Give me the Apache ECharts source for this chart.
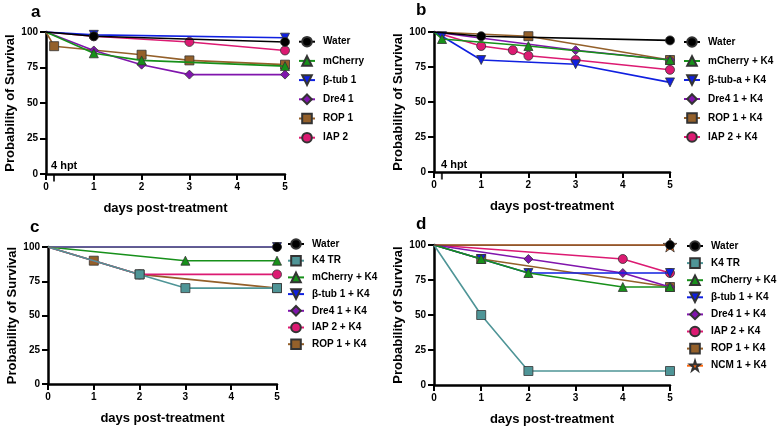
<!DOCTYPE html>
<html>
<head>
<meta charset="utf-8">
<script src="https://cdn.jsdelivr.net/npm/echarts@6/dist/echarts.min.js"></script>
<style>
  html, body { margin: 0; padding: 0; background: #fff; }
  #main { width: 778px; height: 430px; }
</style>
</head>
<body>
<div id="main"></div>
<script>
// survival data, [day, percent]
var aWater = [[0,100],[1,97],[5,93]];
var aMCherry = [[0,100],[1,85],[2,80],[5,76]];
var aBtub = [[0,100],[1,98],[5,96]];
var aDre4 = [[0,100],[1,87],[2,77],[3,70],[5,70]];
var aRop = [[0,100],[0.17,90],[2,84],[3,80],[5,77]];
var aIap = [[0,100],[1,97],[3,93],[5,87]];

var bWater = [[0,100],[1,97],[5,94]];
var bMCherry = [[0,100],[0.17,95],[2,90],[5,80]];
var bBtub = [[0,100],[0.17,97],[1,80],[3,77],[5,64]];
var bDre4 = [[0,100],[3,87],[5,80]];
var bRop = [[0,100],[2,97],[5,80]];
var bIap = [[0,100],[1,90],[1.67,87],[2,83],[3,80],[5,73]];

var cWater = [[0,100],[5,100]];
var cK4 = [[0,100],[2,80],[3,70],[5,70]];
var cMCherry = [[0,100],[3,90],[5,90]];
var cBtub = [[0,100],[5,100]];
var cDre4 = [[0,100],[5,100]];
var cIap = [[0,100],[2,80],[5,80]];
var cRop = [[0,100],[1,90],[2,80],[5,70]];

var dWater = [[0,100],[5,100]];
var dK4 = [[0,100],[1,50],[2,10],[5,10]];
var dMCherry = [[0,100],[1,90],[2,80],[4,70],[5,70]];
var dBtub = [[0,100],[1,90],[2,80],[5,80]];
var dDre4 = [[0,100],[2,90],[4,80],[5,70]];
var dIap = [[0,100],[4,90],[5,80]];
var dRop = [[0,100],[1,90],[5,70]];
var dNcm = [[0,100],[5,100]];

var hptTick = [[0.167, 0]];

var FONT = 'Liberation Sans';
var STAR = 'path://M50,0 L61,35 L98,35 L68,57 L79,91 L50,70 L21,91 L32,57 L2,35 L39,35 Z';

var look = {
    water:   {color: '#000000', symbol: 'circle'},
    k4:      {color: '#4f9597', symbol: 'rect'},
    mcherry: {color: '#17901a', symbol: 'triangle'},
    btub:    {color: '#1020e0', symbol: 'triangle', rotate: 180},
    dre4:    {color: '#8015ad', symbol: 'diamond'},
    rop:     {color: '#94602a', symbol: 'rect'},
    iap:     {color: '#dc1a72', symbol: 'circle'},
    ncm:     {color: '#ff6a10', symbol: STAR}
};

var panels = [
    {
        grid: {left: 46, top: 32, width: 239, height: 142},
        legend: {left: 298, top: 35.7, itemGap: 7.2},
        hpt: true,
        lines: [
            ['Water', aWater, 'water'],
            ['mCherry', aMCherry, 'mcherry'],
            ['β-tub 1', aBtub, 'btub'],
            ['Dre4 1', aDre4, 'dre4'],
            ['ROP 1', aRop, 'rop'],
            ['IAP 2', aIap, 'iap']
        ]
    },
    {
        grid: {left: 434, top: 32, width: 236, height: 140},
        legend: {left: 683, top: 36, itemGap: 7},
        hpt: true,
        lines: [
            ['Water', bWater, 'water'],
            ['mCherry + K4', bMCherry, 'mcherry'],
            ['β-tub-a + K4', bBtub, 'btub'],
            ['Dre4 1 + K4', bDre4, 'dre4'],
            ['ROP 1 + K4', bRop, 'rop'],
            ['IAP 2 + K4', bIap, 'iap']
        ]
    },
    {
        grid: {left: 48, top: 247, width: 229, height: 137},
        legend: {left: 287, top: 238, itemGap: 4.7},
        lineOverride: {water: '#6e6e6e'},
        lines: [
            ['Water', cWater, 'water'],
            ['K4 TR', cK4, 'k4'],
            ['mCherry + K4', cMCherry, 'mcherry'],
            ['β-tub 1 + K4', cBtub, 'btub'],
            ['Dre4 1 + K4', cDre4, 'dre4'],
            ['IAP 2 + K4', cIap, 'iap'],
            ['ROP 1 + K4', cRop, 'rop']
        ]
    },
    {
        grid: {left: 434, top: 245, width: 236, height: 140},
        legend: {left: 686, top: 240, itemGap: 5.1},
        lineOverride: {water: '#6b4423'},
        lines: [
            ['Water', dWater, 'water'],
            ['K4 TR', dK4, 'k4'],
            ['mCherry + K4', dMCherry, 'mcherry'],
            ['β-tub 1 + K4', dBtub, 'btub'],
            ['Dre4 1 + K4', dDre4, 'dre4'],
            ['IAP 2 + K4', dIap, 'iap'],
            ['ROP 1 + K4', dRop, 'rop'],
            ['NCM 1 + K4', dNcm, 'ncm']
        ]
    }
];

var axisLine = {lineStyle: {color: '#000', width: 2.5}};
var axisTick = {length: 6, lineStyle: {color: '#000', width: 2}};
var axisLabel = {color: '#000', fontFamily: FONT, fontWeight: 'bold', fontSize: 10, margin: 8};
var nameStyle = {color: '#000', fontFamily: FONT, fontWeight: 'bold', fontSize: 13};

var grids = [], xAxes = [], yAxes = [], legends = [], series = [];

panels.forEach(function (p, pi) {
    grids.push(p.grid);
    xAxes.push({
        type: 'value', gridIndex: pi, min: 0, max: 5, interval: 1,
        name: 'days post-treatment', nameLocation: 'middle', nameGap: 28,
        nameTextStyle: nameStyle,
        axisLine: axisLine, axisTick: axisTick, axisLabel: axisLabel,
        splitLine: {show: false}
    });
    yAxes.push({
        type: 'value', gridIndex: pi, min: 0, max: 100, interval: 25,
        name: 'Probability of Survival', nameLocation: 'middle', nameGap: 29,
        nameTextStyle: nameStyle,
        axisLine: axisLine, axisTick: axisTick, axisLabel: axisLabel,
        splitLine: {show: false}
    });
    legends.push({
        orient: 'vertical', left: p.legend.left, top: p.legend.top,
        padding: 0, itemGap: p.legend.itemGap, itemWidth: 16, itemHeight: 12,
        selectedMode: false,
        textStyle: {color: '#000', fontFamily: FONT, fontWeight: 'bold', fontSize: 10,
                    lineHeight: 12, padding: [0, 0, 0, 3]},
        data: p.lines.map(function (l) { return l[0]; })
    });
    var n = p.lines.length;
    p.lines.forEach(function (l, i) {
        var st = look[l[2]];
        var lineColor = (p.lineOverride && p.lineOverride[l[2]]) || st.color;
        series.push({
            name: l[0], type: 'line', xAxisIndex: pi, yAxisIndex: pi,
            z: 10 + n - i,
            symbol: st.symbol, symbolRotate: st.rotate || 0,
            symbolSize: l[2] === 'ncm' ? 14 : 9,
            showAllSymbol: true,
            lineStyle: {color: lineColor, width: 1.6},
            itemStyle: {color: st.color, borderColor: '#333', borderWidth: 0.8},
            data: l[1].map(function (pt) {
                return pt[0] === 0 ? {value: pt, symbol: 'none'} : pt;
            }),
            animation: false
        });
    });
    if (p.hpt) {
        series.push({
            type: 'scatter', xAxisIndex: pi, yAxisIndex: pi, silent: true,
            symbol: 'rect', symbolSize: [2, 7], symbolOffset: [0, 4],
            itemStyle: {color: '#000'}, z: 30,
            data: hptTick, animation: false
        });
    }
});

var letterStyle = {fill: '#000', fontFamily: FONT, fontWeight: 'bold', fontSize: 17};
var hptStyle = {fill: '#000', fontFamily: FONT, fontWeight: 'bold', fontSize: 11};

var myChart = echarts.init(document.getElementById('main'));
var option = {
    backgroundColor: '#fff',
    animation: false,
    grid: grids,
    xAxis: xAxes,
    yAxis: yAxes,
    legend: legends,
    graphic: [
        {type: 'text', left: 31, top: 4, style: Object.assign({text: 'a'}, letterStyle)},
        {type: 'text', left: 416, top: 2, style: Object.assign({text: 'b'}, letterStyle)},
        {type: 'text', left: 30, top: 219, style: Object.assign({text: 'c'}, letterStyle)},
        {type: 'text', left: 416, top: 216, style: Object.assign({text: 'd'}, letterStyle)},
        {type: 'text', left: 51, top: 160, style: Object.assign({text: '4 hpt'}, hptStyle)},
        {type: 'text', left: 441, top: 159, style: Object.assign({text: '4 hpt'}, hptStyle)}
    ],
    series: series
};
myChart.setOption(option);
</script>
</body>
</html>
